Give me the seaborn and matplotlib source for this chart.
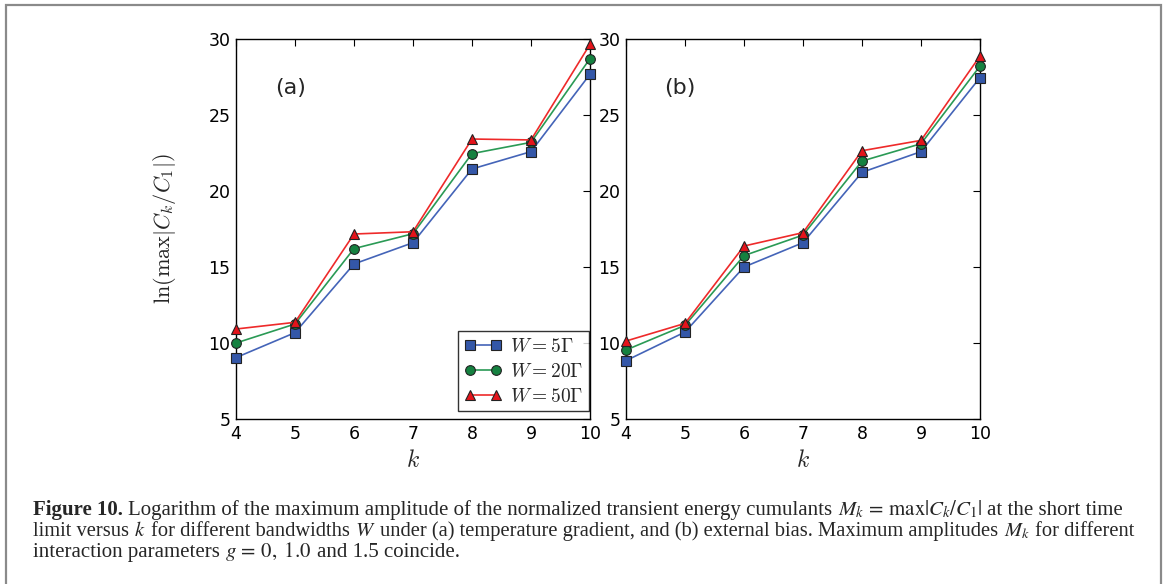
import matplotlib
matplotlib.use("Agg")
import matplotlib.pyplot as plt
import seaborn as sns
import numpy as np
from matplotlib.patches import Rectangle

# ---- data -------------------------------------------------------------
k = [4, 5, 6, 7, 8, 9, 10]

# (a) temperature gradient
a_w5 = [9.04, 10.68, 15.20, 16.60, 21.45, 22.59, 27.68]
a_w20 = [10.00, 11.25, 16.21, 17.19, 22.46, 23.20, 28.71]
a_w50 = [10.92, 11.36, 17.17, 17.32, 23.42, 23.36, 29.65]

# (b) external bias
b_w5 = [8.84, 10.72, 15.00, 16.60, 21.23, 22.59, 27.46]
b_w20 = [9.54, 11.16, 15.75, 17.10, 21.97, 23.11, 28.22]
b_w50 = [10.13, 11.29, 16.38, 17.26, 22.65, 23.33, 28.88]

series_labels = [r"$W=5\Gamma$", r"$W=20\Gamma$", r"$W=50\Gamma$"]
panel_tags = ["(a)", "(b)"]
x_ticks = [4, 5, 6, 7, 8, 9, 10]
y_ticks = [5, 10, 15, 20, 25, 30]

# caption words, split into plain and math pieces joined by single spaces
caption_lines = [
    [("Figure 10.", "bold"),
     ("Logarithm of the maximum amplitude of the normalized transient energy cumulants", "normal"),
     (r"$M_k\,=\,\max|C_k/C_1|$", "normal"),
     ("at the short time", "normal")],
    [("limit versus", "normal"), (r"$k$", "normal"),
     ("for different bandwidths", "normal"), (r"$W$", "normal"),
     ("under (a) temperature gradient, and (b) external bias. Maximum amplitudes", "normal"),
     (r"$M_k$", "normal"), ("for different", "normal")],
    [("interaction parameters", "normal"), (r"$g\,=\,0,\;1.0$", "normal"),
     ("and 1.5 coincide.", "normal")],
]

# ---- style ------------------------------------------------------------
sns.set_theme(style="white")
plt.rcParams["font.family"] = ["DejaVu Sans"]
plt.rcParams["mathtext.fontset"] = "cm"

colors = ["#3457a8", "#158140", "#e4141b"]
line_colors = ["#4464b8", "#2a9a55", "#ee2a2a"]
markers = ["s", "o", "^"]
msizes = [7, 7, 7.5]

fig = plt.figure(figsize=(11.68, 5.84), dpi=100)

ax_w = 354 / 1168
ax_h = 380 / 584
ax_b = (584 - 419) / 584
axes = [fig.add_axes([236 / 1168, ax_b, ax_w, ax_h]),
        fig.add_axes([626 / 1168, ax_b, ax_w, ax_h])]

panels = [[a_w5, a_w20, a_w50], [b_w5, b_w20, b_w50]]

for i, (ax, data) in enumerate(zip(axes, panels)):
    for j, vals in enumerate(data):
        sns.lineplot(x=k, y=vals, ax=ax, color=line_colors[j], linewidth=1.2,
                     marker=markers[j], markersize=msizes[j],
                     markerfacecolor=colors[j], markeredgecolor="#222222",
                     markeredgewidth=0.8, label=series_labels[j], legend=False,
                     clip_on=False, zorder=3)
    ax.set_xlim(4, 10)
    ax.set_ylim(5, 30)
    ax.set_xticks(x_ticks)
    ax.set_yticks(y_ticks)
    ax.tick_params(direction="in", length=5, width=0.8, top=True, right=True,
                   labelsize=12.5, pad=4, colors="black")
    for s in ax.spines.values():
        s.set_color("black")
        s.set_linewidth(1.0)
    ax.set_xlabel(r"$k$", fontsize=17, labelpad=4)
    ax.text(0.153, 0.871, panel_tags[i], transform=ax.transAxes,
            fontsize=16, ha="center", va="center")

axes[0].set_ylabel(r"$\ln(\max|C_k/C_1|)$", fontsize=16, labelpad=22)

handles, labels = axes[0].get_legend_handles_labels()
leg = axes[0].legend(handles, labels, loc="lower right",
                     bbox_to_anchor=(0.997, 0.021), numpoints=2,
                     fontsize=14, frameon=True, fancybox=False,
                     edgecolor="black", borderaxespad=0.0, handlelength=1.95,
                     labelspacing=0.3, borderpad=0.28, handletextpad=0.45)
leg.get_frame().set_linewidth(1.0)

# ---- outer frame ------------------------------------------------------
fig.patches.append(Rectangle((6 / 1168, -0.05), (1161 - 6) / 1168, 1.05 - 5 / 584,
                             transform=fig.transFigure, fill=False,
                             edgecolor="#8a8a8a", linewidth=1.6))

# ---- caption ----------------------------------------------------------
cap_family = ["Liberation Serif", "DejaVu Serif"]
base_size = 13.0
x0 = 33
baselines = [515, 536, 557]
line_ends = [1120, 1133, None]

fig.canvas.draw()
renderer = fig.canvas.get_renderer()


def text_width(s, size, weight="normal"):
    t = fig.text(0, 0, s, fontsize=size, family=cap_family, weight=weight)
    w = t.get_window_extent(renderer).width
    t.remove()
    return w


def draw_line(segments, size, y_px):
    space = text_width("x x", size) - text_width("xx", size)
    x = x0
    objs = []
    for n, (txt, weight) in enumerate(segments):
        if n:
            x += space
        t = fig.text(x / 1168, 1 - y_px / 584, txt, fontsize=size,
                     family=cap_family, weight=weight, va="baseline",
                     ha="left", math_fontfamily="stix")
        x = t.get_window_extent(renderer).x1
        objs.append(t)
    return objs, x


# each full-width line is sized to fill the text block; the last line keeps
# the size of the first
sizes = []
for segs, y, end in zip(caption_lines, baselines, line_ends):
    if end is None:
        sizes.append(sizes[0])
        continue
    objs, xe = draw_line(segs, base_size, y)
    for o in objs:
        o.remove()
    sizes.append(base_size * (end - x0) / (xe - x0))

for segs, y, size in zip(caption_lines, baselines, sizes):
    draw_line(segs, size, y)

fig.savefig("out.png", dpi=100)
